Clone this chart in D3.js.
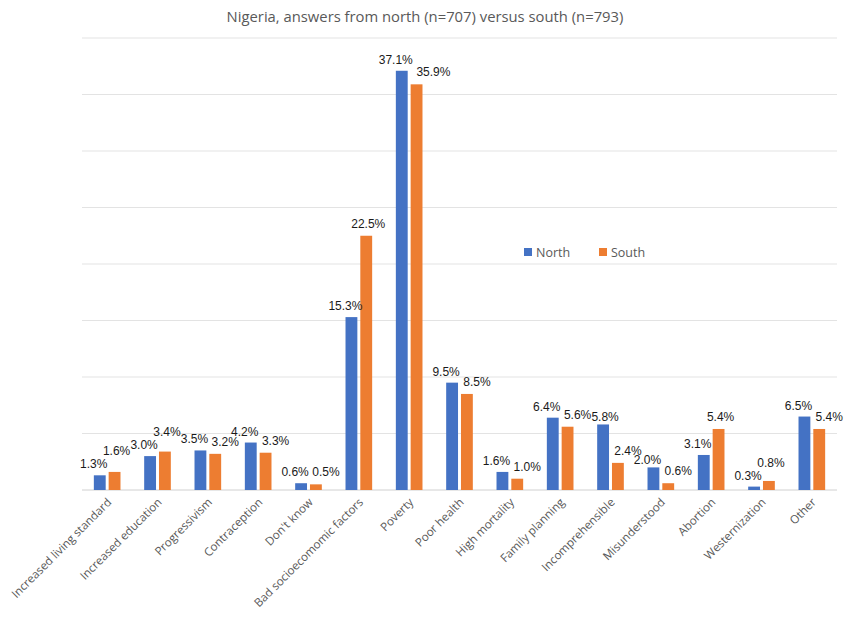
<!DOCTYPE html>
<html>
<head>
<meta charset="utf-8">
<script src="https://cdn.jsdelivr.net/npm/d3@7"></script>
<style>
  body { margin: 0; background: #fff; }
</style>
</head>
<body>
<script>
// answer categories and shares (%) per region
const categories = ["Increased living standard", "Increased education", "Progressivism", "Contraception",
  "Don't know", "Bad socioecomomic factors", "Poverty", "Poor health", "High mortality",
  "Family planning", "Incomprehensible", "Misunderstood", "Abortion", "Westernization", "Other"];
const north = [1.3, 3.0, 3.5, 4.2, 0.6, 15.3, 37.1, 9.5, 1.6, 6.4, 5.8, 2.0, 3.1, 0.3, 6.5];
const south = [1.6, 3.4, 3.2, 3.3, 0.5, 22.5, 35.9, 8.5, 1.0, 5.6, 2.4, 0.6, 5.4, 0.8, 5.4];
const seriesNames = ["North", "South"];
const yTicks = [0, 5, 10, 15, 20, 25, 30, 35, 40];

const width = 850, height = 637;
const margin = {top: 38, right: 13, bottom: 147, left: 82};
const colors = ["#4472C4", "#ED7D31"];
const labelFont = "Liberation Sans, Arial, sans-serif";

const svg = d3.select("body").append("svg")
  .attr("width", width)
  .attr("height", height);

const x = d3.scaleBand()
  .domain(categories)
  .range([margin.left, width - margin.right]);
const x1 = d3.scaleBand()
  .domain(seriesNames)
  .range([0, x.bandwidth()])
  .paddingInner(0.2)
  .paddingOuter(0.8);
const y = d3.scaleLinear()
  .domain([0, 40])
  .range([height - margin.bottom, margin.top]);

// gridlines
svg.append("g")
  .selectAll("line")
  .data(yTicks)
  .enter()
  .append("line")
    .attr("x1", margin.left)
    .attr("x2", width - margin.right)
    .attr("y1", d => y(d))
    .attr("y2", d => y(d))
    .attr("stroke", d => d === 0 ? "#d0d0d0" : "#e3e3e3")
    .attr("stroke-width", 1);

// title
svg.append("text")
  .attr("x", width / 2)
  .attr("y", 22)
  .attr("text-anchor", "middle")
  .attr("font-family", "Open Sans, sans-serif")
  .attr("font-size", 14.8)
  .attr("fill", "#595959")
  .text("Nigeria, answers from north (n=707) versus south (n=793)");

const rows = categories.map((c, i) => ({cat: c, vals: [north[i], south[i]]}));

const groups = svg.append("g")
  .selectAll("g")
  .data(rows)
  .enter()
  .append("g")
    .attr("transform", d => "translate(" + x(d.cat) + ",0)");

groups.selectAll("rect")
  .data(d => d.vals.map((v, j) => ({name: seriesNames[j], v: v, j: j})))
  .enter()
  .append("rect")
    .attr("x", d => x1(d.name))
    .attr("y", d => y(d.v))
    .attr("width", x1.bandwidth())
    .attr("height", d => y(0) - y(d.v))
    .attr("fill", d => colors[d.j]);

// data labels (Excel-like): north left of its bar, south beside or above it,
// then nudged down/right/up when a label runs into an earlier one
const fs = 12, capH = 9.5, lineH = 13, gap = 3.5;
const placed = [];
function hitList(l) {
  return placed.filter(p =>
    (l.cx - l.w / 2) < (p.cx + p.w / 2) && (l.cx + l.w / 2) > (p.cx - p.w / 2) &&
    Math.abs(l.y - p.y) < capH);
}
function settle(l, v, canShift) {
  if (!hitList(l).length) return;
  const cx0 = l.cx, y0 = l.y;
  l.y = y(v) - 3;
  if (hitList(l).length && canShift) {
    for (let s = 1; s <= 12 && hitList(l).length; s++) l.cx += 1;
  }
  if (hitList(l).length) {
    l.cx = cx0; l.y = y0;
    let h = hitList(l);
    while (h.length) {
      l.y = d3.min(h, p => p.y) - lineH;
      h = hitList(l);
    }
  }
}
rows.forEach(r => {
  const [vn, vs] = r.vals;
  const tn = vn.toFixed(1) + "%", ts = vs.toFixed(1) + "%";
  const bn = x(r.cat) + x1("North") + x1.bandwidth() / 2;
  const bs = x(r.cat) + x1("South") + x1.bandwidth() / 2;
  const a = {t: tn, w: tn.length * fs * 0.57, cx: bn - 6, y: y(vn) - 7};
  settle(a, vn, true);
  placed.push(a);
  const b = {t: ts, w: ts.length * fs * 0.57, y: y(vs) - 8};
  if (vs <= vn) {
    b.cx = Math.max(bs + 2, bn - 6 + a.w / 2 + gap + ts.length * fs * 0.57 / 2);
  } else {
    b.cx = bs + 2;
  }
  settle(b, vs, false);
  placed.push(b);
});

svg.append("g")
  .selectAll("text")
  .data(placed)
  .enter()
  .append("text")
    .attr("x", d => d.cx)
    .attr("y", d => d.y)
    .attr("text-anchor", "middle")
    .attr("font-family", labelFont)
    .attr("font-size", fs)
    .attr("fill", "#1a1a1a")
    .text(d => d.t);

// category labels
svg.append("g")
  .selectAll("text")
  .data(categories)
  .enter()
  .append("text")
    .attr("transform", d => "translate(" + (x(d) + x.bandwidth() / 2 + 5) + "," + (height - margin.bottom + 13) + ") rotate(-45)")
    .attr("text-anchor", "end")
    .attr("font-family", "Open Sans, sans-serif")
    .attr("font-size", 11.6)
    .attr("fill", "#595959")
    .text(d => d);

// legend
const legend = svg.append("g")
  .attr("transform", "translate(524,252)");
seriesNames.forEach((n, i) => {
  const g = legend.append("g").attr("transform", "translate(" + (i * 75) + ",0)");
  g.append("rect")
    .attr("x", 0).attr("y", -4)
    .attr("width", 8).attr("height", 8)
    .attr("fill", colors[i]);
  g.append("text")
    .attr("x", 12).attr("y", 4.5)
    .attr("font-family", "Open Sans, sans-serif")
    .attr("font-size", 12.5)
    .attr("fill", "#595959")
    .text(n);
});
</script>
</body>
</html>
